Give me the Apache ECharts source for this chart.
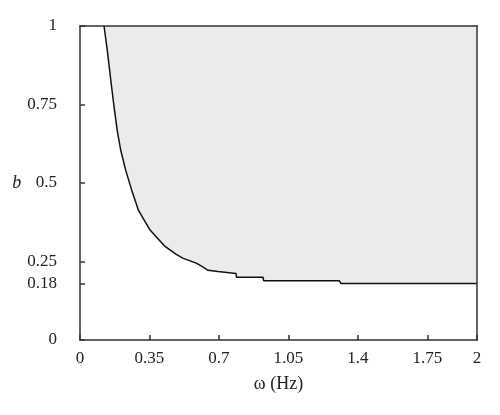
<!DOCTYPE html>
<html><head><meta charset="utf-8">
<script src="https://cdn.jsdelivr.net/npm/echarts@6/dist/echarts.min.js"></script>
<style>html,body{margin:0;padding:0;background:#fff}#c{width:500px;height:415px}</style>
</head><body><div id="c"></div>
<script>
var omega = [0.121,0.138,0.155,0.172,0.188,0.205,0.23,0.26,0.294,0.327,0.353,0.394,0.425,0.453,0.485,0.52,0.555,0.588,0.61,0.63,0.645,0.695,0.697,0.786,0.788,0.922,0.925,1.306,1.315,2.0];
var bVals = [1.0,0.92,0.828,0.74,0.665,0.605,0.541,0.478,0.414,0.378,0.35,0.322,0.3,0.287,0.273,0.26,0.252,0.244,0.236,0.228,0.222,0.218,0.212,0.212,0.2,0.2,0.189,0.189,0.18,0.18];
var xTicks = [0,0.35,0.7,1.05,1.4,1.75,2];
var yTicks = [0,0.18,0.25,0.5,0.75,1];
var pts = omega.map(function(w,i){return [w,bVals[i]];});
var chart = echarts.init(document.getElementById('c'));
var font = 'Liberation Serif';
var frame = {show:true,onZero:false,lineStyle:{color:'#333',width:1.5}};
chart.setOption({
  animation:false,
  grid:{left:80,right:23,top:26,bottom:75},
  xAxis:[{type:'value',min:0,max:2,z:10,
    name:'ω (Hz)',nameLocation:'middle',nameGap:35,
    nameTextStyle:{fontFamily:font,fontSize:18,color:'#222'},
    axisLine:frame,
    axisTick:{show:true,inside:true,length:5,customValues:xTicks,lineStyle:{color:'#333',width:1.5}},
    axisLabel:{customValues:xTicks,fontFamily:font,fontSize:17,color:'#222',margin:10,
      formatter:function(v){return String(v);}},
    splitLine:{show:false}},
   {type:'value',position:'top',min:0,max:2,z:10,axisLine:frame,axisTick:{show:false},axisLabel:{show:false},splitLine:{show:false}}],
  yAxis:[{type:'value',min:0,max:1,z:10,
    name:'b',nameLocation:'middle',nameGap:58,nameRotate:0,
    nameTextStyle:{fontFamily:font,fontSize:18,fontStyle:'italic',color:'#222'},
    axisLine:frame,
    axisTick:{show:true,inside:true,length:5,customValues:yTicks,lineStyle:{color:'#333',width:1.5}},
    axisLabel:{customValues:yTicks,fontFamily:font,fontSize:17,color:'#222',margin:23,
      formatter:function(v){return String(v);}},
    splitLine:{show:false}},
   {type:'value',position:'right',min:0,max:1,z:10,axisLine:frame,axisTick:{show:false},axisLabel:{show:false},splitLine:{show:false}}],
  series:[{type:'line',data:pts,symbol:'none',smooth:false,xAxisIndex:0,yAxisIndex:0,
    lineStyle:{color:'#111',width:1.5},
    areaStyle:{origin:'end',color:'#ebebeb',opacity:1}}]
});
</script></body></html>
